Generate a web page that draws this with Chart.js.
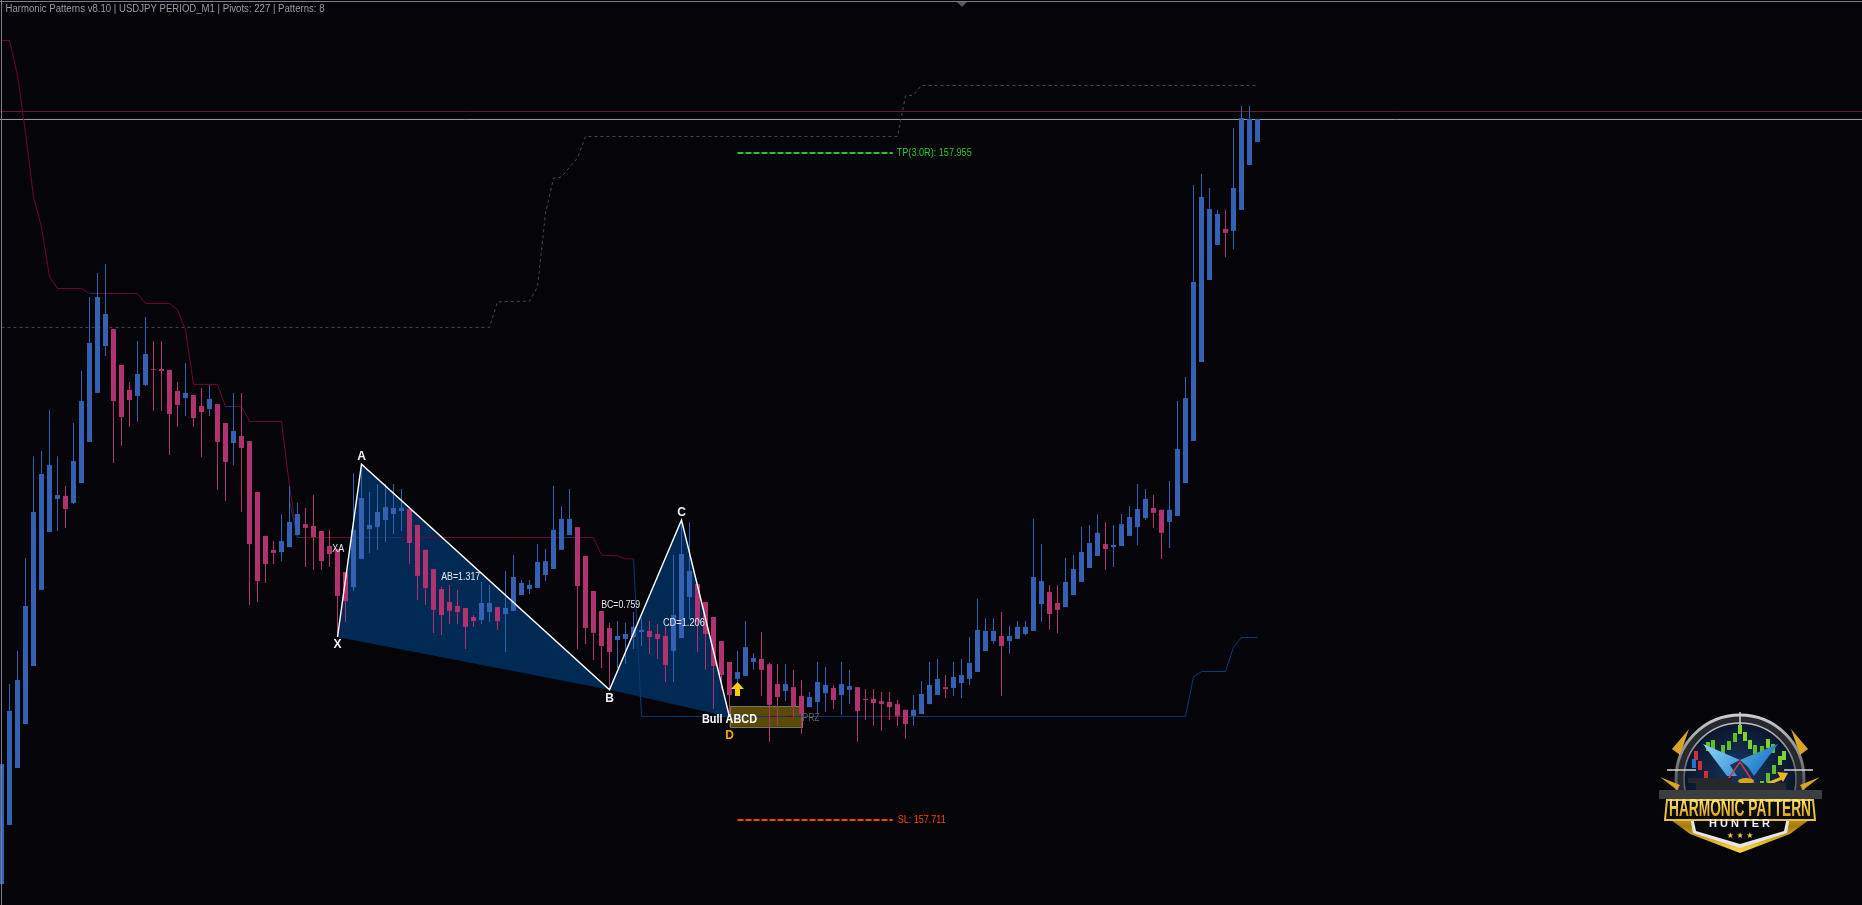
<!DOCTYPE html>
<html>
<head>
<meta charset="utf-8">
<title>Harmonic Patterns USDJPY M1</title>
<script src="https://cdn.jsdelivr.net/npm/chart.js@4"></script>
<style>
  html, body { margin: 0; padding: 0; background: #050509; overflow: hidden; }
  canvas { display: block; }
</style>
</head>
<body>
<canvas id="chart" width="1862" height="905"></canvas>
<script>
// USDJPY M1 candles, one entry per bar
const opens = [157.6878,157.7094,157.7302,157.7462,157.7674,157.7952,157.8163,157.8284,157.8295,157.8269,
157.8342,157.8492,157.8671,157.8842,157.8904,157.8773,157.8682,157.8660,157.8700,157.8758,
157.8758,157.8755,157.8678,157.8652,157.8663,157.8623,157.8612,157.8630,157.8561,157.8488,
157.8514,157.8495,157.8309,157.8149,157.8098,157.8090,157.8108,157.8152,157.8192,157.8185,
157.8167,157.8112,157.8101,157.8017,157.7962,157.8065,157.8174,157.8181,157.8207,157.8229,
157.8240,157.8247,157.8189,157.8098,157.8028,157.7955,157.7908,157.7893,157.7886,157.7853,
157.7842,157.7871,157.7889,157.7864,157.7875,157.7933,157.7955,157.7959,157.8006,157.8028,
157.8098,157.8152,157.8181,157.8076,157.7948,157.7875,157.7813,157.7769,157.7773,157.7780,
157.7798,157.7802,157.7791,157.7784,157.7729,157.7776,157.7926,157.7973,157.7908,157.7853,
157.7765,157.7689,157.7627,157.7638,157.7689,157.7700,157.7681,157.7608,157.7583,157.7597,
157.7565,157.7524,157.7543,157.7575,157.7594,157.7568,157.7587,157.7597,157.7554,157.7554,
157.7546,157.7543,157.7535,157.7514,157.7492,157.7499,157.7535,157.7568,157.7597,157.7594,
157.7612,157.7627,157.7652,157.7729,157.7765,157.7784,157.7765,157.7773,157.7791,157.7802,
157.7900,157.7944,157.7904,157.7889,157.7933,157.7981,157.8032,157.8076,157.8119,157.8108,
157.8112,157.8149,157.8181,157.8214,157.8251,157.8244,157.8200,157.8222,157.8342,157.8495,
157.8784,157.9083,157.9211,157.9269,157.9262,157.9339,157.9503,157.9587];
const closes = [157.7316,157.7510,157.7623,157.7893,157.8236,157.8375,157.8408,157.8298,157.8247,157.8422,
157.8641,157.8853,157.9021,157.8959,157.8641,157.8583,157.8645,157.8740,157.8813,157.8755,
157.8751,157.8594,157.8627,157.8671,157.8579,157.8601,157.8649,157.8492,157.8419,157.8532,
157.8470,157.8119,157.7984,157.8046,157.8087,157.8130,157.8200,157.8229,157.8178,157.8145,
157.8057,157.8083,157.7930,157.7911,157.8171,157.8287,157.8189,157.8236,157.8254,157.8251,
157.8251,157.8123,157.8003,157.7959,157.7879,157.7860,157.7875,157.7871,157.7817,157.7838,
157.7904,157.7904,157.7838,157.7886,157.7999,157.7977,157.7970,157.8054,157.8057,157.8171,
157.8211,157.8211,157.7966,157.7813,157.7795,157.7747,157.7725,157.7784,157.7791,157.7817,
157.7806,157.7780,157.7773,157.7678,157.7860,157.8083,157.8021,157.7835,157.7791,157.7674,
157.7641,157.7568,157.7652,157.7743,157.7703,157.7660,157.7532,157.7561,157.7608,157.7528,
157.7499,157.7561,157.7616,157.7605,157.7550,157.7608,157.7601,157.7510,157.7550,157.7539,
157.7535,157.7524,157.7492,157.7462,157.7514,157.7572,157.7605,157.7627,157.7590,157.7634,
157.7641,157.7685,157.7806,157.7802,157.7802,157.7747,157.7784,157.7817,157.7817,157.7999,
157.7984,157.7864,157.7879,157.7981,157.8028,157.8090,157.8123,157.8160,157.8101,157.8116,
157.8192,157.8218,157.8247,157.8284,157.8233,157.8160,157.8244,157.8466,157.8652,157.9076,
157.9386,157.9342,157.9324,157.9255,157.9419,157.9674,157.9671,157.9671];
const highs = [157.7316,157.7608,157.7729,157.8068,157.8440,157.8459,157.8609,157.8440,157.8331,157.8561,
157.8751,157.9021,157.9109,157.9141,157.8904,157.8773,157.8711,157.8860,157.8948,157.8860,
157.8860,157.8755,157.8711,157.8780,157.8663,157.8689,157.8700,157.8630,157.8561,157.8671,
157.8671,157.8495,157.8309,157.8149,157.8130,157.8229,157.8331,157.8269,157.8251,157.8298,
157.8167,157.8171,157.8101,157.8017,157.8378,157.8411,157.8309,157.8338,157.8338,157.8338,
157.8320,157.8247,157.8189,157.8098,157.8028,157.7962,157.7970,157.7952,157.7886,157.7860,
157.7981,157.7970,157.7889,157.8021,157.8079,157.7988,157.7988,157.8119,157.8101,157.8331,
157.8258,157.8320,157.8181,157.8076,157.7948,157.7875,157.7831,157.7838,157.7831,157.7871,
157.7849,157.7838,157.7827,157.7817,157.8079,157.8207,157.8200,157.7973,157.7908,157.7853,
157.7765,157.7689,157.7729,157.7838,157.7721,157.7798,157.7685,157.7681,157.7681,157.7660,
157.7623,157.7579,157.7689,157.7670,157.7605,157.7689,157.7660,157.7597,157.7590,157.7590,
157.7579,157.7579,157.7550,157.7514,157.7568,157.7619,157.7689,157.7700,157.7641,157.7689,
157.7700,157.7780,157.7919,157.7849,157.7849,157.7871,157.7820,157.7838,157.7838,157.8211,
157.8119,157.7970,157.7970,157.8068,157.8079,157.8181,157.8189,157.8229,157.8200,157.8189,
157.8229,157.8258,157.8338,157.8320,157.8298,157.8244,157.8349,157.8641,157.8729,157.9430,
157.9470,157.9419,157.9339,157.9339,157.9638,157.9718,157.9718,157.9671];
const lows = [157.6878,157.7094,157.7302,157.7462,157.7674,157.7952,157.8163,157.8167,157.8178,157.8265,
157.8342,157.8492,157.8671,157.8806,157.8415,157.8477,157.8546,157.8565,157.8696,157.8605,
157.8605,157.8444,157.8546,157.8587,157.8546,157.8437,157.8587,157.8317,157.8276,157.8408,
157.8236,157.7897,157.7908,157.7977,157.8046,157.8057,157.8108,157.8152,157.8035,157.8025,
157.8025,157.8035,157.7780,157.7835,157.7948,157.8065,157.8087,157.8098,157.8127,157.8156,
157.8167,157.8046,157.7915,157.7897,157.7795,157.7787,157.7827,157.7827,157.7736,157.7817,
157.7827,157.7835,157.7806,157.7725,157.7875,157.7933,157.7937,157.7959,157.7984,157.8028,
157.8098,157.8152,157.7736,157.7754,157.7696,157.7667,157.7587,157.7667,157.7681,157.7736,
157.7747,157.7718,157.7700,157.7616,157.7616,157.7776,157.7846,157.7725,157.7660,157.7517,
157.7587,157.7488,157.7605,157.7638,157.7660,157.7565,157.7397,157.7455,157.7546,157.7488,
157.7426,157.7524,157.7499,157.7506,157.7517,157.7495,157.7535,157.7397,157.7477,157.7455,
157.7437,157.7477,157.7455,157.7408,157.7455,157.7499,157.7535,157.7568,157.7557,157.7565,
157.7557,157.7605,157.7652,157.7729,157.7754,157.7565,157.7718,157.7773,157.7787,157.7802,
157.7835,157.7806,157.7795,157.7889,157.7933,157.7981,157.8032,157.8076,157.8025,157.8035,
157.8112,157.8149,157.8116,157.8207,157.8178,157.8065,157.8105,157.8222,157.8342,157.8495,
157.8784,157.9083,157.9211,157.9167,157.9196,157.9339,157.9503,157.9587];

// resistance / support channel, given at the bars where it bends
const upperStepBars = [0,1,2,3,4,5,6,7,10,11,17,18,21,22,23,24,27,28,30,31,35,36,37,74,75,77,78,79];
const upperStepPrices = [157.9957,157.9957,157.9831,157.9620,157.9386,157.9276,157.9094,157.9052,157.9052,157.9034,157.9034,157.8997,157.8997,157.8974,157.8901,157.8702,157.8702,157.8621,157.8621,157.8567,157.8567,157.8331,157.8143,157.8143,157.8079,157.8076,157.8065,157.8065];
const lowerStepBars = [79,80,148,149,150,153,154,155,157];
const lowerStepPrices = [157.8065,157.7490,157.7490,157.7634,157.7654,157.7654,157.7743,157.7778,157.7778];
// bits where the other colour shows through (null breaks the line)
const lowerBitsBars = [11,12,13,28,29,30,36,37,38,39,44,50,51,70,72];
const lowerBitsPrices = [157.9034,157.9034,null,157.8621,157.8621,null,157.8276,157.8143,157.8143,null,157.8143,157.8143,null,157.8143,157.8143];
const upperBitsBars = [96,97,98,98,99,100,110,113];
const upperBitsPrices = [157.7490,157.7490,null,157.7490,157.7490,null,157.7490,157.7490];
const dashedBars = [0,61,62,66,67,68,69,70,71,72,73,112,113,114,115,157];
const dashedPrices = [157.8910,157.8910,157.9003,157.9006,157.9057,157.9327,157.9455,157.9459,157.9495,157.9528,157.9607,157.9607,157.9755,157.9758,157.9793,157.9793];

// Bull ABCD pattern
const patternLabels = ['X','A','B','C','D'];
const patternBars = [42,45,76,85,91];
const patternPrices = [157.7780,157.8411,157.7587,157.8207,157.7488];
const ratioLabels = ['XA','AB=1.317','BC=0.759','CD=1.206'];
const ratioBars = [42.1,57.4,77.4,85.3];
const ratioPrices = [157.8100,157.7999,157.7897,157.7831];
const ratioWidths = [12,39,39,42];

const tpPrice = 157.9547, slPrice = 157.7112;
const tpText = 'TP(3.0R): 157.955', slText = 'SL: 157.711';
const levelBars = [92,111.4];
const przBars = [91,100], przPrices = [157.7528,157.7452];
const bidPrice = 157.9669, askPrice = 157.9698;
const titleText = 'Harmonic Patterns v8.10 | USDJPY PERIOD_M1 | Pivots: 227 | Patterns: 8';

const BLUE = '#3561b2', PINK = '#b0326e', BG = '#050509';
const isUp = opens.map((o, i) => closes[i] >= o);
const candleColors = isUp.map(u => u ? BLUE : PINK);
const pts = (bars, prices) => bars.map((b, i) => ({ x: b, y: prices[i] }));

function lineSet(data, color, width, order, dash) {
  return { type: 'line', data, borderColor: color, borderWidth: width, order,
    pointRadius: 0, tension: 0, fill: false, borderDash: dash || [], spanGaps: false, borderCapStyle: 'butt' };
}

// drawn under the candles: chart background, pattern wings, PRZ box
const underlay = {
  id: 'underlay',
  beforeDraw(chart) {
    const c = chart.ctx;
    c.fillStyle = BG;
    c.fillRect(0, 0, chart.width, chart.height);
  },
  beforeDatasetsDraw(chart) {
    const c = chart.ctx, X = chart.scales.x, Y = chart.scales.y;
    const px = i => X.getPixelForValue(patternBars[i]), py = i => Y.getPixelForValue(patternPrices[i]);
    c.save();
    c.fillStyle = '#002a54';
    [[0,1,2],[2,3,4]].forEach(t => {
      c.beginPath();
      t.forEach((p, n) => n ? c.lineTo(px(p), py(p)) : c.moveTo(px(p), py(p)));
      c.closePath();
      c.fill();
    });
    const bx = X.getPixelForValue(przBars[0]), bw = X.getPixelForValue(przBars[1]) - bx;
    const by = Y.getPixelForValue(przPrices[0]), bh = Y.getPixelForValue(przPrices[1]) - by;
    c.fillStyle = '#5a4a08';
    c.fillRect(bx, by, bw, bh);
    c.strokeStyle = '#77775c';
    c.lineWidth = 1;
    c.strokeRect(Math.round(bx) + 0.5, Math.round(by) + 0.5, Math.round(bw), Math.round(bh));
    c.restore();
  }
};

function label(c, text, x, y, font, color, align, maxW) {
  c.font = font;
  c.fillStyle = color;
  c.textAlign = align || 'center';
  c.textBaseline = 'middle';
  if (maxW) c.fillText(text, x, y, maxW); else c.fillText(text, x, y);
}

function poly(c, points, fill, stroke) {
  c.beginPath();
  points.forEach((p, i) => i ? c.lineTo(p[0], p[1]) : c.moveTo(p[0], p[1]));
  c.closePath();
  if (fill) { c.fillStyle = fill; c.fill(); }
  if (stroke) { c.strokeStyle = stroke; c.stroke(); }
}

// badge in the lower right corner
function drawLogo(c, cx, cy) {
  c.save();
  const sky = c.createRadialGradient(cx, cy - 10, 5, cx, cy, 58);
  sky.addColorStop(0, '#16345c');
  sky.addColorStop(1, '#0a1428');
  c.fillStyle = sky;
  c.beginPath(); c.arc(cx, cy, 58, 0, Math.PI * 2); c.fill();
  const ring = c.createLinearGradient(cx, cy - 65, cx, cy + 65);
  ring.addColorStop(0, '#cfcfd2');
  ring.addColorStop(0.5, '#5c5f65');
  ring.addColorStop(1, '#a5a5a5');
  c.strokeStyle = '#26282d'; c.lineWidth = 10;
  c.beginPath(); c.arc(cx, cy, 60, 0, Math.PI * 2); c.stroke();
  c.strokeStyle = ring; c.lineWidth = 3;
  c.beginPath(); c.arc(cx, cy, 64, 0, Math.PI * 2); c.stroke();
  c.lineWidth = 1.5;
  c.beginPath(); c.arc(cx, cy, 56, 0, Math.PI * 2); c.stroke();
  c.strokeStyle = '#d0d0d0'; c.lineWidth = 1.5;
  [[cx - 73, cy - 9, cx - 44, cy - 9], [cx + 44, cy - 9, cx + 73, cy - 9], [cx, cy - 67, cx, cy - 52]].forEach(l => {
    c.beginPath(); c.moveTo(l[0], l[1]); c.lineTo(l[2], l[3]); c.stroke();
  });
  // green and red candles behind the wings
  [[-32,-37,'#5fbf2a'],[-27,-39,'#5fbf2a'],[-17,-34,'#5fbf2a'],[-11,-38,'#5fbf2a'],[-5,-46,'#5fbf2a'],[0,-54,'#7fd030'],[5,-47,'#7fd030'],
   [10,-39,'#7fd030'],[15,-34,'#5fbf2a'],[22,-33,'#5fbf2a'],[28,-40,'#7fd030'],[33,-35,'#5fbf2a'],
   [-44,-28,'#d03030'],[-40,-18,'#d03030'],[-34,-8,'#d03030'],[-28,2,'#d03030'],[-46,-20,'#2a70d0'],
   [22,2,'#5fbf2a'],[28,-6,'#5fbf2a'],[34,-14,'#5fbf2a'],[40,-23,'#7fd030'],[44,-28,'#7fd030']].forEach(b => {
    c.fillStyle = b[2];
    c.fillRect(cx + b[0] - 2, cy + b[1], 4, 9);
  });
  // the butterfly
  const wing = c.createLinearGradient(cx - 40, cy - 34, cx + 10, cy + 10);
  wing.addColorStop(0, '#8fdcf8');
  wing.addColorStop(1, '#1c78c8');
  poly(c, [[cx - 37, cy - 35], [cx, cy - 19], [cx - 10, cy - 14], [cx - 3, cy - 3], [cx - 13, cy - 3]], wing);
  poly(c, [[cx + 38, cy - 35], [cx, cy - 19], [cx + 8, cy - 12], [cx + 14, cy - 3]], wing);
  c.strokeStyle = '#d93a3a'; c.lineWidth = 1.5;
  c.beginPath(); c.moveTo(cx - 14, cy + 3); c.lineTo(cx, cy - 17); c.lineTo(cx + 15, cy + 6); c.stroke();
  // gold arrow and coins
  c.strokeStyle = '#e8b820'; c.lineWidth = 3;
  c.beginPath(); c.moveTo(cx + 20, cy + 8); c.lineTo(cx + 42, cy - 1); c.stroke();
  poly(c, [[cx + 48, cy - 6], [cx + 37, cy - 7], [cx + 43, cy + 3]], '#e8b820');
  [[6,2],[8,6],[11,10]].forEach(m => {
    c.fillStyle = '#d9a520';
    c.beginPath(); c.ellipse(cx + m[0], cy + m[1], 8, 3, 0, 0, Math.PI * 2); c.fill();
  });
  // bullets on the sides
  poly(c, [[cx - 51, cy - 50], [cx - 68, cy - 30], [cx - 60, cy - 24]], '#d9a520');
  poly(c, [[cx + 51, cy - 50], [cx + 68, cy - 30], [cx + 60, cy - 24]], '#d9a520');
  poly(c, [[cx - 80, cy - 2], [cx - 60, cy + 6], [cx - 63, cy + 11]], '#d9a520');
  poly(c, [[cx + 80, cy - 2], [cx + 60, cy + 6], [cx + 63, cy + 11]], '#d9a520');
  // rifle
  c.fillStyle = '#3a3d42';
  c.fillRect(cx - 81, cy + 11, 163, 9);
  c.fillStyle = '#26282c';
  c.fillRect(cx - 52, cy - 1, 44, 5);
  c.fillRect(cx - 44, cy + 4, 90, 7);
  // shield under the banner
  const gold = c.createLinearGradient(cx, cy + 24, cx, cy + 70);
  gold.addColorStop(0, '#f4d040');
  gold.addColorStop(0.5, '#a67a0a');
  gold.addColorStop(1, '#f4d040');
  poly(c, [[cx - 73, cy + 38], [cx + 73, cy + 38], [cx + 50, cy + 55], [cx, cy + 74], [cx - 50, cy + 55]], gold);
  poly(c, [[cx - 50, cy + 38], [cx + 50, cy + 38], [cx + 47, cy + 54], [cx, cy + 69], [cx - 47, cy + 54]], '#e4e4e4');
  poly(c, [[cx - 47, cy + 38], [cx + 47, cy + 38], [cx + 44, cy + 52], [cx, cy + 65], [cx - 44, cy + 52]], '#08080c');
  // banner
  c.lineWidth = 2;
  poly(c, [[cx - 73, cy + 21], [cx + 73, cy + 21], [cx + 75, cy + 41], [cx - 75, cy + 41]], '#0a0a0c', '#e8c040');
  const txt = c.createLinearGradient(cx, cy + 23, cx, cy + 39);
  txt.addColorStop(0, '#ffe060');
  txt.addColorStop(1, '#d89810');
  label(c, 'HARMONIC PATTERN', cx, cy + 31, 'bold 23px "Liberation Sans"', txt, 'center', 142);
  c.letterSpacing = '3px';
  label(c, 'HUNTER', cx + 1, cy + 45, 'bold 11px "Liberation Sans"', '#eeeeee', 'center');
  c.letterSpacing = '0px';
  label(c, '★ ★ ★', cx, cy + 57, '8px "DejaVu Sans"', '#f0c840', 'center');
  c.restore();
}

// drawn over everything: frame, text, arrow, badge
const overlay = {
  id: 'overlay',
  afterDatasetsDraw(chart) {
    const c = chart.ctx, X = chart.scales.x, Y = chart.scales.y;
    c.save();
    c.fillStyle = '#7c7c8c';
    c.fillRect(1, 0, 1, 905);
    c.fillRect(0, 1, 1862, 1);
    poly(c, [[957, 2], [967, 2], [962, 7]], '#56565f');

    label(c, titleText, 5.5, 9, '10px "Liberation Sans"', '#9a9aa6', 'left', 319);

    const smallFont = '10px "Liberation Sans"';
    ratioLabels.forEach((t, i) => {
      label(c, t, X.getPixelForValue(ratioBars[i]), Y.getPixelForValue(ratioPrices[i]), smallFont, '#e8e8e8', 'center', ratioWidths[i]);
    });
    const offs = [8, -7, 9, -7, 19];
    patternLabels.forEach((t, i) => {
      label(c, t, X.getPixelForValue(patternBars[i]), Y.getPixelForValue(patternPrices[i]) + offs[i],
        'bold 12px "Liberation Sans"', t === 'D' ? '#f5a80c' : '#f0f0f0');
    });
    label(c, 'Bull ABCD', X.getPixelForValue(patternBars[4]), Y.getPixelForValue(patternPrices[4]) + 3,
      'bold 12px "Liberation Sans"', '#ffffff', 'center', 55);
    label(c, 'PRZ', X.getPixelForValue(przBars[1]) + 1, Y.getPixelForValue(przPrices[1]) - 9, smallFont, '#666666', 'left', 17);
    label(c, tpText, X.getPixelForValue(levelBars[1]) + 4, Y.getPixelForValue(tpPrice), smallFont, '#26cc26', 'left', 75);
    label(c, slText, X.getPixelForValue(levelBars[1]) + 5, Y.getPixelForValue(slPrice), smallFont, '#ff4500', 'left', 48);

    // buy arrow under bar 92
    const ax = X.getPixelForValue(92), ay = Y.getPixelForValue(lows[92]) - 2;
    poly(c, [[ax, ay - 1], [ax + 6.5, ay + 6], [ax + 2.5, ay + 6], [ax + 2.5, ay + 13], [ax - 2.5, ay + 13], [ax - 2.5, ay + 6], [ax - 6.5, ay + 6]], '#ffcc00');

    drawLogo(c, 1740, 779);
    c.restore();
  }
};

new Chart(document.getElementById('chart'), {
  type: 'bar',
  data: {
    datasets: [
      lineSet(pts(levelBars, [tpPrice, tpPrice]), '#22cc22', 2, 0, [6, 2]),
      lineSet(pts(levelBars, [slPrice, slPrice]), '#ff4500', 2, 0, [6, 2]),
      lineSet(pts(patternBars, patternPrices), '#ffffff', 1.4, 1),
      { type: 'bar', data: opens.map((o, i) => ({ x: i, y: [o, closes[i]] })), backgroundColor: candleColors,
        barThickness: 5, grouped: false, order: 2, borderWidth: 0, inflateAmount: 0 },
      { type: 'bar', data: lows.map((l, i) => ({ x: i, y: [l, highs[i]] })), backgroundColor: candleColors,
        barThickness: 1, grouped: false, order: 3, borderWidth: 0, inflateAmount: 0 },
      lineSet(pts(upperStepBars, upperStepPrices), '#6a0a2a', 1, 5),
      lineSet(pts(lowerStepBars, lowerStepPrices), '#0b3a75', 1, 5),
      lineSet(pts(lowerBitsBars, lowerBitsPrices), '#0b3a75', 1, 4),
      lineSet(pts(upperBitsBars, upperBitsPrices), '#6a0a2a', 1, 4),
      lineSet(pts(dashedBars, dashedPrices), '#4a4a4a', 1, 6, [3, 3]),
      lineSet(pts([-0.1875, 232.5625], [askPrice, askPrice]), '#5a2030', 1, 7),
      lineSet(pts([-0.1875, 232.5625], [bidPrice, bidPrice]), '#a2a2a2', 1, 7)
    ]
  },
  options: {
    responsive: false,
    animation: false,
    devicePixelRatio: 1,
    layout: { padding: 0 },
    plugins: { legend: { display: false }, tooltip: { enabled: false } },
    scales: {
      x: { type: 'linear', display: false, offset: false, min: -0.1875, max: 232.5625, grid: { display: false } },
      y: { type: 'linear', display: false, min: 157.680175, max: 158.0105, grid: { display: false } }
    }
  },
  plugins: [underlay, overlay]
});
</script>
</body>
</html>
